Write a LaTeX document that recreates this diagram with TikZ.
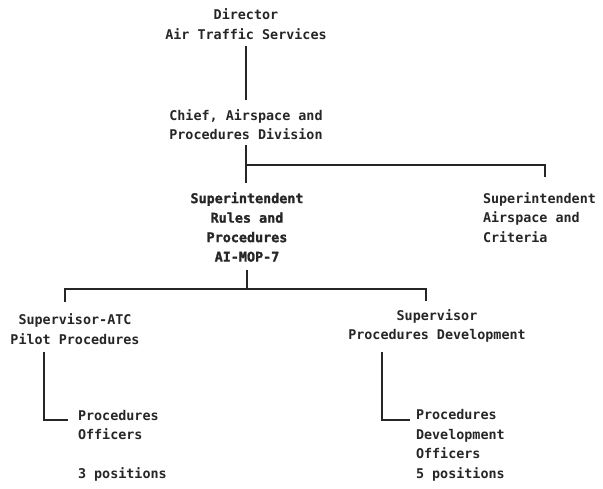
\documentclass[tikz,border=0pt]{standalone}
\usepackage{fontspec}
\newfontfamily\orgmono{DejaVu Sans Mono Bold}
\newfontfamily\orgmonob[FakeBold=1.5]{DejaVu Sans Mono Bold}
\begin{document}
\begin{tikzpicture}[x=1pt,y=-1pt,
  lbl/.style={inner sep=0pt,outer sep=0pt,font=\orgmono\fontsize{13.4}{19.5}\selectfont,text=black!85},
  lblb/.style={lbl,font=\orgmonob\fontsize{13.4}{19.5}\selectfont},
  conn/.style={line width=1.5pt,black!85}]
\useasboundingbox (0,0) rectangle (603,488);
\node[lbl,align=center] (dir) at (246,24) {Director\\Air Traffic Services};
\node[lbl,align=center] (chief) at (246,124.5) {Chief, Airspace and\\Procedures Division};
\node[lblb,align=center] (rules) at (247,227) {Superintendent\\Rules and\\Procedures\\AI-MOP-7};
\node[lbl,align=left,anchor=west] (airsp) at (483,217.5) {Superintendent\\Airspace and\\Criteria};
\node[lbl,align=center] (sup1) at (75,329) {Supervisor-ATC\\Pilot Procedures};
\node[lbl,align=center] (sup2) at (437,326) {Supervisor\\Procedures Development};
\node[lbl,align=left,anchor=west] (off1) at (78,446) {Procedures\\Officers\\\strut\\3 positions};
\node[lbl,align=left,anchor=west] (off2) at (416,445.5) {Procedures\\Development\\Officers\\5 positions};
% connector helper coordinates
\coordinate (dirb) at (246,46);
\coordinate (chieft) at (246,100);
\coordinate (chiefb) at (246,145);
\coordinate (rulest) at (246,183);
\coordinate (airspt) at (545,177);
\coordinate (rulesb) at (247,270);
\coordinate (bar2) at (247,289);
\coordinate (sup1t) at (65,302);
\coordinate (sup2t) at (426,301);
\coordinate (sup1b) at (44,352);
\coordinate (off1w) at (68,420);
\coordinate (sup2b) at (382,352);
\coordinate (off2w) at (410,420);
\draw[conn] (dirb) -- (chieft);
\draw[conn] (chiefb) -- (rulest);
\draw[conn] (chiefb |- 0,165) -| (airspt);
\draw[conn] (rulesb) -- (bar2);
\draw[conn] (sup1t) |- (bar2) -| (sup2t);
\draw[conn] (sup1b) |- (off1w);
\draw[conn] (sup2b) |- (off2w);
\end{tikzpicture}
\end{document}
